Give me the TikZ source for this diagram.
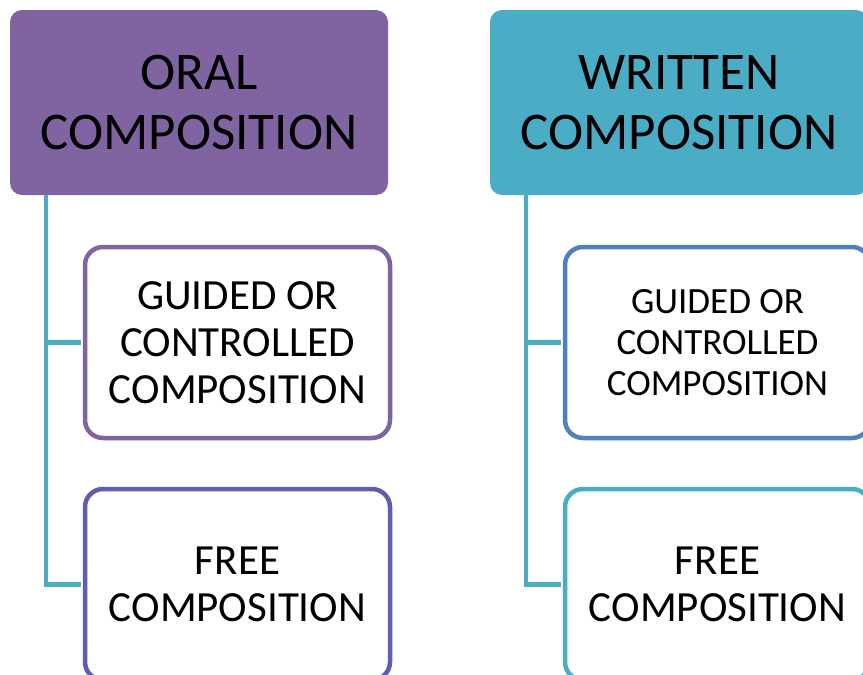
\documentclass[tikz,border=0pt]{standalone}
\usepackage{fontspec}
\setmainfont{Carlito}
\usepackage{xcolor}
\usepackage{tikz}
\usetikzlibrary{calc,positioning}
\definecolor{compPurple}{RGB}{128,100,162}
\definecolor{compAqua}{RGB}{75,172,198}
\definecolor{compBlue}{RGB}{79,129,189}
\definecolor{compIndigo}{RGB}{96,94,176}

\begin{document}
\begin{tikzpicture}[x=1pt,y=-1pt,
  head/.style={rounded corners=12pt, minimum width=378pt, minimum height=185pt,
    align=center, inner sep=0pt, font=\fontsize{53}{60}\selectfont},
  subbox/.style={draw, line width=4.5pt, fill=white, rounded corners=18pt,
    minimum width=305pt, minimum height=191pt, align=center, inner sep=0pt,
    font=\fontsize{43}{47}\selectfont},
  conn/.style={draw=compAqua, line width=4.5pt, shorten >=2.2pt}]
\useasboundingbox (0,0) rectangle (863,675);
\clip (0,0) rectangle (863,675);

% oral side
\node[head, fill=compPurple] (oral) at (199,102.5) {ORAL\\COMPOSITION};
\node[subbox, draw=compPurple] (oralguided) at (237.5,342.5) {GUIDED OR\\CONTROLLED\\COMPOSITION};
\node[subbox, draw=compIndigo] (oralfree) at (237.5,584.5) {FREE\\COMPOSITION};

% written side
\node[head, fill=compAqua] (written) at (679,102.5) {WRITTEN\\COMPOSITION};
\node[subbox, draw=compBlue, font=\fontsize{37}{41}\selectfont] (writtenguided) at (717.5,342.5) {GUIDED OR\\CONTROLLED\\COMPOSITION};
\node[subbox, draw=compAqua] (writtenfree) at (717.5,584.5) {FREE\\COMPOSITION};

\foreach \h/\a/\b in {oral/oralguided/oralfree, written/writtenguided/writtenfree}{
  \draw[conn] ([xshift=36pt]\h.south west) |- (\a.west);
  \draw[conn] ([xshift=36pt]\h.south west) |- (\b.west);
}
\end{tikzpicture}
\end{document}
